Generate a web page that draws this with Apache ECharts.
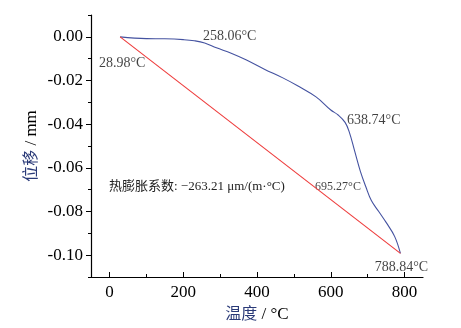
<!DOCTYPE html>
<html><head><meta charset="utf-8">
<script src="https://cdn.jsdelivr.net/npm/echarts@6/dist/echarts.min.js"></script>
<style>html,body{margin:0;padding:0;background:#fff}#c{width:461px;height:328px}</style>
</head><body><div id="c"></div>
<script>
const curveT = [28.98, 100, 150, 200, 230, 258.06, 290, 330, 370, 420, 470, 510, 560, 600, 620, 638.74, 650, 665, 680, 695.27, 710, 730, 750, 773, 788.84];
const curveD = [0, -0.0008, -0.0009, -0.0013, -0.0018, -0.0028, -0.005, -0.0075, -0.0105, -0.0148, -0.0188, -0.0224, -0.0275, -0.0335, -0.0358, -0.0392, -0.0435, -0.0525, -0.0615, -0.0688, -0.0750, -0.0800, -0.0850, -0.0914, -0.0992];
const lineT = [28.98, 788.84];
const lineD = [0, -0.0992];
const annoT = [28.98, 258.06, 638.74, 695.27, 788.84];
const annoD = [0, -0.0028, -0.0392, -0.0688, -0.0992];
const annoText = ['28.98°C', '258.06°C', '638.74°C', '695.27°C', '788.84°C'];
const xLabels = [0, 200, 400, 600, 800];
const xMinor = [100, 300, 500, 700];
const yLabels = [0, -0.02, -0.04, -0.06, -0.08, -0.10];
const yMinor = [0.01, -0.01, -0.03, -0.05, -0.07, -0.09, -0.11];
const coefText = '热膨胀系数: −263.21 μm/(m·°C)';
const xName = ['温度', ' / °C'];
const yName = ['位移', ' / mm'];

const FONT = '"Liberation Serif","Times New Roman","Noto Sans CJK SC",serif';
const annoStyle = [
  {position:'bottom', offset:[2,14], fontSize:14},
  {position:'top', offset:[25,5], fontSize:14},
  {position:'right', offset:[-3,-2], fontSize:14},
  {position:'left', offset:[0,0], fontSize:12},
  {position:'bottom', offset:[1,2], fontSize:14}
];
const nameRich = {
  c:{fontFamily:FONT, fontSize:16, color:'#2a3a78'},
  u:{fontFamily:FONT, fontSize:17, color:'#000'}
};
const chart = echarts.init(document.getElementById('c'), null, {renderer:'canvas'});
const axisLine = {show:true, onZero:false, lineStyle:{color:'#000', width:1.2}};
chart.setOption({
  animation:false,
  textStyle:{fontFamily:FONT},
  title:{text:coefText, left:104, top:175, textStyle:{fontFamily:FONT, fontSize:13, fontWeight:'normal', color:'#222'}},
  grid:{left:91, right:38, top:15, bottom:47},
  xAxis:[{
    type:'value', min:-50, max:850, interval:50,
    name:'{c|'+xName[0]+'}{u|'+xName[1]+'}', nameLocation:'middle', nameGap:29,
    nameTextStyle:{rich:nameRich},
    axisLine:axisLine, splitLine:{show:false},
    axisTick:{show:true, inside:true, length:5, customValues:xLabels, lineStyle:{color:'#000'}},
    axisLabel:{customValues:xLabels, fontFamily:FONT, fontSize:17, color:'#000', margin:7}
  },{
    type:'value', min:-50, max:850, interval:50, position:'bottom',
    axisLine:{show:false, onZero:false}, splitLine:{show:false},
    axisTick:{show:true, inside:true, length:3, customValues:xMinor, lineStyle:{color:'#000'}},
    axisLabel:{show:false}
  }],
  yAxis:[{
    type:'value', min:-0.11, max:0.01, interval:0.01,
    name:'{c|'+yName[0]+'}{u|'+yName[1]+'}', nameLocation:'middle', nameGap:51, nameRotate:90,
    nameMoveOverlap:false,
    nameTextStyle:{rich:nameRich},
    axisLine:axisLine, splitLine:{show:false},
    axisTick:{show:true, length:5, customValues:yLabels, lineStyle:{color:'#000'}},
    axisLabel:{customValues:yLabels, fontFamily:FONT, fontSize:17, color:'#000', margin:8,
      formatter:v=>v.toFixed(2)}
  },{
    type:'value', min:-0.11, max:0.01, interval:0.01, position:'left',
    axisLine:{show:false, onZero:false}, splitLine:{show:false},
    axisTick:{show:true, length:3, customValues:yMinor, lineStyle:{color:'#000'}},
    axisLabel:{show:false}
  }],
  series:[{
    type:'line', smooth:0.4, showSymbol:false, symbol:'none',
    data:curveT.map((t,i)=>[t,curveD[i]]),
    lineStyle:{color:'#4452a0', width:1.1}
  },{
    type:'line', showSymbol:false, symbol:'none',
    data:lineT.map((t,i)=>[t,lineD[i]]),
    lineStyle:{color:'#ee3b3b', width:1.1}
  },{
    type:'scatter', symbolSize:0, silent:true,
    data:annoT.map((t,i)=>({value:[t,annoD[i]], label:{show:true, formatter:annoText[i], position:annoStyle[i].position, offset:annoStyle[i].offset, fontSize:annoStyle[i].fontSize, fontFamily:FONT, color:'#111'}}))
  }]
});
</script></body></html>
